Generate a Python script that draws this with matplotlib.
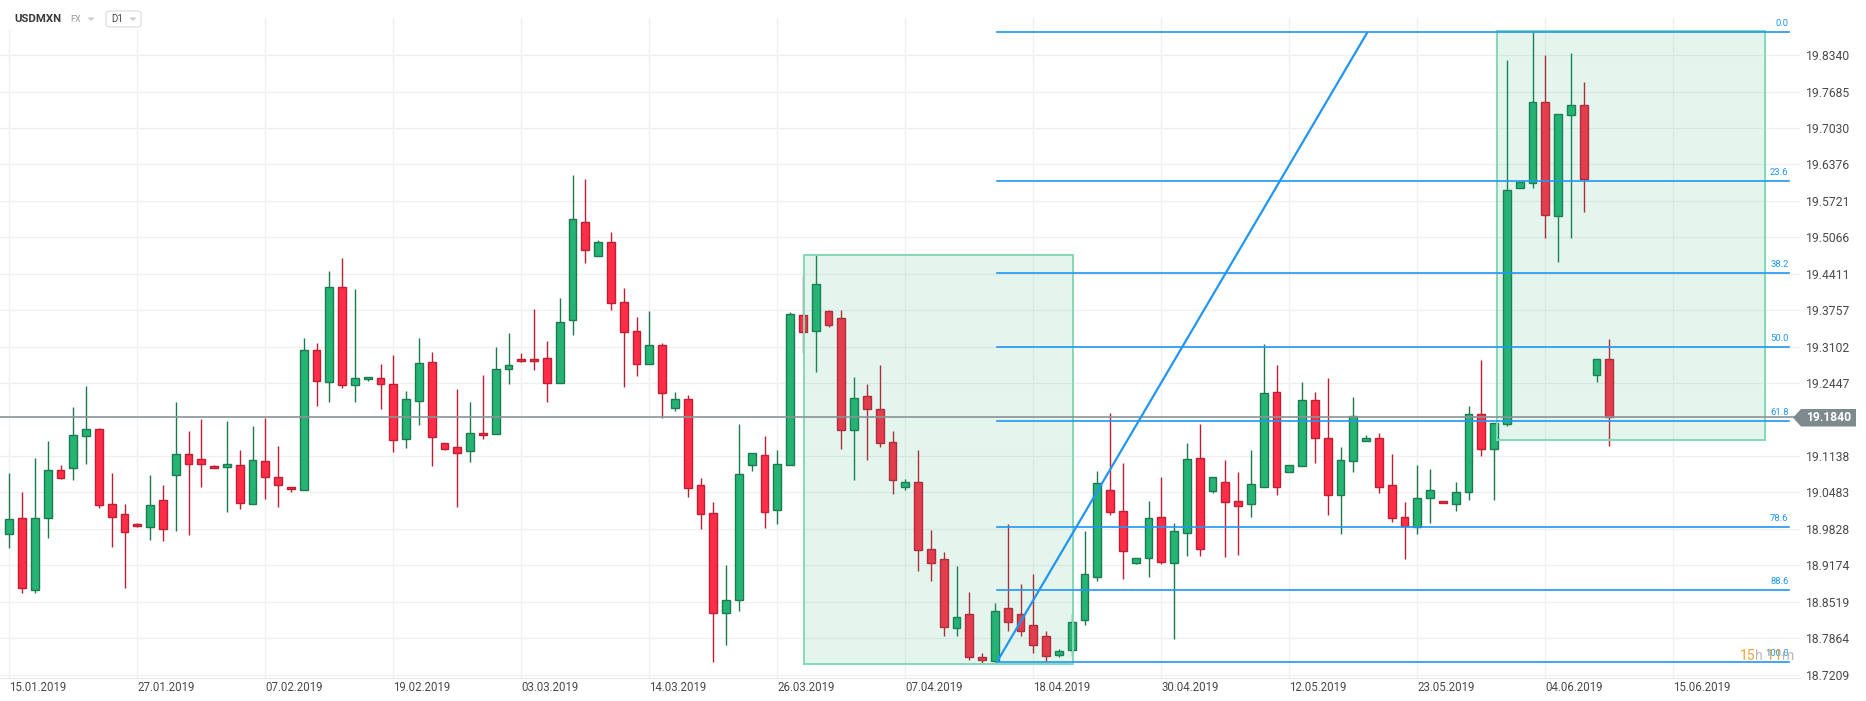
import matplotlib
matplotlib.use("Agg")
import matplotlib.pyplot as plt
from matplotlib.patches import Rectangle, Polygon, FancyBboxPatch
import numpy as np

plt.rcParams['font.family'] = ['Roboto', 'DejaVu Sans']

# ---------------- data ----------------
opens = [18.974, 19.003, 18.873, 19.003, 19.088, 19.093, 19.150, 19.163, 19.028, 19.009,
         18.992, 18.987, 19.034, 19.079, 19.118, 19.109, 19.096, 19.094, 19.098, 19.028,
         19.105, 19.077, 19.059, 19.053, 19.304, 19.247, 19.417, 19.242, 19.252, 19.254,
         19.244, 19.145, 19.212, 19.283, 19.137, 19.130, 19.122, 19.156, 19.154, 19.270,
         19.288, 19.288, 19.290, 19.245, 19.358, 19.535, 19.474, 19.498, 19.390, 19.339,
         19.279, 19.313, 19.200, 19.216, 19.061, 19.012, 18.831, 18.855, 19.098, 19.116,
         19.016, 19.098, 19.367, 19.338, 19.374, 19.361, 19.160, 19.221, 19.198, 19.139,
         19.059, 19.068, 18.946, 18.928, 18.805, 18.830, 18.752, 18.745, 18.840, 18.830,
         18.810, 18.790, 18.757, 18.765, 18.820, 18.896, 19.052, 19.015, 18.921, 18.931,
         19.005, 18.922, 18.976, 19.110, 19.051, 19.068, 19.033, 19.027, 19.059, 19.228,
         19.086, 19.095, 19.214, 19.147, 19.043, 19.104, 19.140, 19.147, 19.061, 19.004,
         18.986, 19.038, 19.033, 19.027, 19.050, 19.189, 19.126, 19.171, 19.596, 19.605,
         19.750, 19.545, 19.727, 19.745, 19.259, 19.289]
highs = [19.084, 19.050, 19.111, 19.140, 19.097, 19.201, 19.239, 19.165, 19.084, 19.028,
         18.993, 19.079, 19.061, 19.210, 19.158, 19.181, 19.097, 19.177, 19.124, 19.167,
         19.183, 19.132, 19.059, 19.326, 19.317, 19.446, 19.469, 19.413, 19.255, 19.280,
         19.295, 19.230, 19.325, 19.301, 19.138, 19.235, 19.210, 19.259, 19.310, 19.335,
         19.299, 19.378, 19.321, 19.398, 19.618, 19.611, 19.502, 19.516, 19.416, 19.364,
         19.375, 19.317, 19.228, 19.223, 19.074, 19.031, 18.918, 19.172, 19.120, 19.150,
         19.124, 19.372, 19.439, 19.476, 19.376, 19.376, 19.256, 19.244, 19.277, 19.159,
         19.073, 19.125, 18.981, 18.941, 18.916, 18.870, 18.760, 18.850, 18.991, 18.884,
         18.902, 18.800, 18.768, 18.830, 18.979, 19.087, 19.191, 19.102, 18.931, 19.033,
         19.076, 18.994, 19.137, 19.171, 19.076, 19.107, 19.085, 19.125, 19.315, 19.277,
         19.097, 19.247, 19.229, 19.254, 19.130, 19.220, 19.152, 19.156, 19.117, 19.031,
         19.098, 19.090, 19.033, 19.067, 19.203, 19.286, 19.173, 19.825, 19.606, 19.875,
         19.834, 19.728, 19.838, 19.786, 19.289, 19.324]
lows = [18.949, 18.868, 18.868, 18.967, 19.072, 19.071, 19.099, 19.020, 18.950, 18.877,
        18.987, 18.963, 18.961, 18.979, 18.972, 19.058, 19.092, 19.013, 19.019, 19.028,
        19.037, 19.022, 19.050, 19.053, 19.204, 19.210, 19.236, 19.210, 19.249, 19.198,
        19.121, 19.128, 19.169, 19.096, 19.125, 19.023, 19.103, 19.144, 19.154, 19.243,
        19.282, 19.268, 19.211, 19.245, 19.331, 19.460, 19.474, 19.377, 19.237, 19.257,
        19.279, 19.182, 19.194, 19.041, 18.983, 18.744, 18.774, 18.836, 19.087, 18.985,
        18.992, 19.097, 19.298, 19.265, 19.346, 19.127, 19.071, 19.106, 19.130, 19.046,
        19.052, 18.908, 18.890, 18.790, 18.790, 18.748, 18.742, 18.744, 18.800, 18.790,
        18.760, 18.745, 18.752, 18.755, 18.810, 18.890, 19.008, 18.893, 18.920, 18.897,
        18.919, 18.785, 18.934, 18.934, 19.047, 18.933, 18.936, 19.005, 19.059, 19.043,
        19.086, 19.095, 19.102, 19.008, 18.974, 19.086, 19.140, 19.048, 18.996, 18.929,
        18.974, 18.994, 19.029, 19.015, 19.034, 19.114, 19.035, 19.168, 19.596, 19.596,
        19.505, 19.462, 19.505, 19.553, 19.247, 19.132]
closes = [19.000, 18.877, 19.003, 19.088, 19.074, 19.152, 19.163, 19.025, 19.005, 18.978,
          18.989, 19.025, 18.982, 19.118, 19.099, 19.099, 19.093, 19.100, 19.030, 19.107,
          19.077, 19.062, 19.055, 19.304, 19.249, 19.417, 19.242, 19.254, 19.255, 19.244,
          19.143, 19.216, 19.281, 19.148, 19.126, 19.120, 19.156, 19.152, 19.270, 19.277,
          19.284, 19.284, 19.245, 19.355, 19.539, 19.484, 19.498, 19.388, 19.337, 19.279,
          19.313, 19.227, 19.216, 19.057, 19.010, 18.831, 18.855, 19.082, 19.120, 19.014,
          19.100, 19.369, 19.336, 19.422, 19.350, 19.160, 19.218, 19.198, 19.137, 19.070,
          19.067, 18.945, 18.922, 18.806, 18.825, 18.752, 18.748, 18.835, 18.815, 18.800,
          18.775, 18.755, 18.763, 18.815, 18.901, 19.065, 19.013, 18.943, 18.931, 19.003,
          18.924, 18.979, 19.108, 18.946, 19.076, 19.031, 19.024, 19.063, 19.227, 19.059,
          19.097, 19.214, 19.146, 19.043, 19.106, 19.185, 19.147, 19.059, 19.002, 18.988,
          19.038, 19.052, 19.029, 19.050, 19.189, 19.126, 19.173, 19.591, 19.606, 19.750,
          19.547, 19.728, 19.745, 19.612, 19.289, 19.184]

date_labels = ["15.01.2019", "27.01.2019", "07.02.2019", "19.02.2019", "03.03.2019",
               "14.03.2019", "26.03.2019", "07.04.2019", "18.04.2019", "30.04.2019",
               "12.05.2019", "23.05.2019", "04.06.2019", "15.06.2019"]
date_label_bars = [0, 10, 20, 30, 40, 50, 60, 70, 80, 90, 100, 110, 120, 130]

price_levels = [18.7209, 18.7864, 18.8519, 18.9174, 18.9828, 19.0483, 19.1138,
                19.2447, 19.3102, 19.3757, 19.4411, 19.5066, 19.5721, 19.6376,
                19.7030, 19.7685, 19.8340]
last_price = 19.1840

fib_low = 18.744
fib_high = 19.875
fib_ratios = [0.0, 23.6, 38.2, 50.0, 61.8, 78.6, 88.6, 100.0]
fib_bars = [77.16, 106.1]        # diagonal anchors (low -> high)
fib_extend_bar = 139.0

boxes = [  # (bar_left, bar_right, price_low, price_high)
    (62.1, 83.1, 18.740, 19.475),
    (116.2, 137.2, 19.142, 19.877),
]

symbol = "USDMXN"
market = "FX"
timeframe = "D1"
countdown = ["15", "h", " 11", "m"]

# ---------------- figure ----------------
W, H = 1866, 701
fig = plt.figure(figsize=(W / 100, H / 100), dpi=100)
ax_left_px, ax_right_px, ax_top_px, ax_bot_px = 0, 1800, 17, 678
ax = fig.add_axes([ax_left_px / W, 1 - ax_bot_px / H,
                   (ax_right_px - ax_left_px) / W, (ax_bot_px - ax_top_px) / H])

bar_px = 12.8
x0_px = 9.3
ax.set_xlim((ax_left_px - x0_px) / bar_px, (ax_right_px - x0_px) / bar_px)
ppx = 0.0017964
ax.set_ylim(19.3102 - (ax_bot_px - 346.7) * ppx, 19.3102 + (346.7 - ax_top_px) * ppx)

# grid
ax.set_xticks(date_label_bars)
ax.set_xticklabels(date_labels)
ax.set_yticks(price_levels)
ax.set_yticklabels([f"{v:.4f}" for v in price_levels])
ax.grid(True, color='#f0f0f0', lw=1.0, zorder=0)
ax.set_axisbelow(True)
ax.yaxis.tick_right()
ax.tick_params(axis='y', length=0, pad=4, labelsize=8.7, labelcolor='#4a4a4a')
ax.tick_params(axis='x', length=0, pad=2, labelsize=8.3, labelcolor='#4a4a4a')
for lab in ax.get_xticklabels():
    lab.set_ha('left')
for s in ['top', 'right', 'left']:
    ax.spines[s].set_visible(False)
ax.spines['bottom'].set_color('#e8e8e8')

# candles
o = np.array(opens); h = np.array(highs); l = np.array(lows); c = np.array(closes)
idx = np.arange(len(o))
up = c >= o
g_face, g_edge = '#26b475', '#1b7a50'
r_face, r_edge = '#ff2e48', '#bf1e33'
ax.vlines(idx[up], l[up], h[up], color=g_edge, lw=1.0, zorder=2)
ax.vlines(idx[~up], l[~up], h[~up], color=r_edge, lw=1.0, zorder=2)
body_lo = np.minimum(o, c)
body_h = np.maximum(np.abs(c - o), 0.0025)
ax.bar(idx[up], body_h[up], bottom=body_lo[up], width=0.62, color=g_face,
       edgecolor=g_edge, lw=1.0, zorder=3)
ax.bar(idx[~up], body_h[~up], bottom=body_lo[~up], width=0.62, color=r_face,
       edgecolor=r_edge, lw=1.0, zorder=3)

# boxes
for (bl, br, pl, ph) in boxes:
    ax.add_patch(Rectangle((bl, pl), br - bl, ph - pl, facecolor=(0.145, 0.70, 0.48, 0.12),
                           edgecolor='#82dab7', lw=1.4, zorder=4))

# last price line
ax.axhline(last_price, color='#8a9398', lw=1.2, zorder=5)

# fibonacci
fib_col = '#2196f3'
ax.plot(fib_bars, [fib_low, fib_high], color=fib_col, lw=1.6, zorder=6, solid_capstyle='butt')
for r in fib_ratios:
    lvl = fib_high - (fib_high - fib_low) * r / 100.0
    ax.plot([fib_bars[0], fib_extend_bar], [lvl, lvl], color=fib_col, lw=1.2, zorder=6)
    ax.annotate(f"{r:.1f}", (fib_extend_bar, lvl), xytext=(0, 3), textcoords='offset points',
                ha='right', va='bottom', fontsize=6.8, color=fib_col, zorder=7)

# countdown text
cx = 1740
for k, part in enumerate(countdown):
    col = '#f5a030' if k % 2 == 0 else '#b8b8b8'
    t = fig.text(cx / W, 1 - 656 / H, part, fontsize=10, color=col, va='center', ha='left')
    fig.canvas.draw()
    bb = t.get_window_extent()
    cx += bb.width

# last price tag
tag = Polygon([(1793 / W, 1 - 417.7 / H), (1801 / W, 1 - 409 / H), (1856 / W, 1 - 409 / H),
               (1856 / W, 1 - 426.5 / H), (1801 / W, 1 - 426.5 / H)],
              closed=True, transform=fig.transFigure, facecolor='#7f8a8f', edgecolor='none',
              zorder=10)
fig.patches.append(tag)
fig.text(1829 / W, 1 - 417.7 / H, f"{last_price:.4f}", color='white', fontsize=8.7,
         fontweight='bold', ha='center', va='center', zorder=11)

# header
fig.patches.append(Rectangle((0, 1 - 30 / H), 150 / W, 30 / H, transform=fig.transFigure,
                             facecolor='white', edgecolor='none', zorder=8))
fig.text(14 / W, 1 - 19 / H, symbol, fontsize=8.2, fontweight='bold', color='#3a3a3a',
         va='center', ha='left', zorder=9)
fig.text(70 / W, 1 - 19 / H, market, fontsize=6.5, color='#9a9a9a', va='center', ha='left', zorder=9)
def tri(xc, yc):
    fig.patches.append(Polygon([((xc - 3.5) / W, 1 - (yc - 1.5) / H), ((xc + 3.5) / W, 1 - (yc - 1.5) / H),
                                (xc / W, 1 - (yc + 2) / H)], closed=True, transform=fig.transFigure,
                               facecolor='#c8c8c8', edgecolor='none', zorder=9))
tri(91, 19)
fig.patches.append(FancyBboxPatch((106 / W, 1 - 27 / H), 35 / W, 16 / H,
                                  boxstyle="round,pad=0,rounding_size=0.003",
                                  transform=fig.transFigure, facecolor='white',
                                  edgecolor='#dcdcdc', lw=0.8, zorder=9))
fig.text(111 / W, 1 - 19 / H, timeframe, fontsize=7, color='#444444', va='center', ha='left', zorder=10)
tri(133, 19)

fig.savefig("out.png", dpi=100)
